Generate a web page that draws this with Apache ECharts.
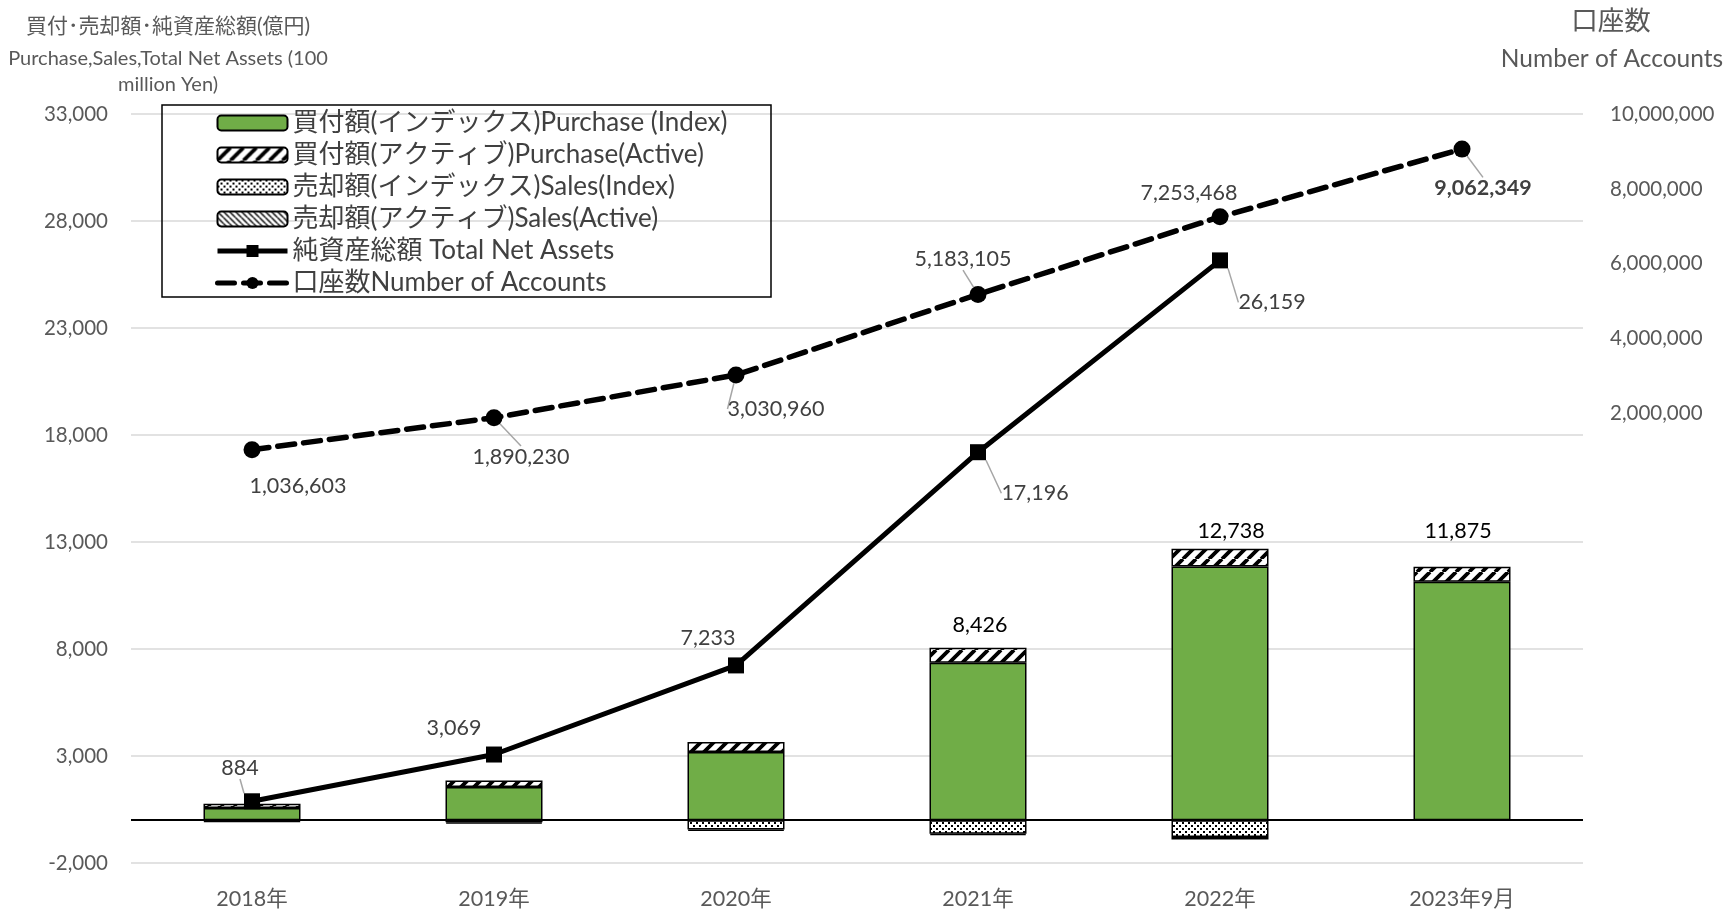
<!DOCTYPE html>
<html><head><meta charset="utf-8">
<script src="https://cdn.jsdelivr.net/npm/echarts@6/dist/echarts.min.js"></script>
<style>html,body{margin:0;padding:0;background:#fff}#c{width:1727px;height:910px}</style>
</head><body><div id="c"></div>
<script>
// ---- data ----
const categories = ['2018年', '2019年', '2020年', '2021年', '2022年', '2023年9月'];
const purchaseIndex = [570, 1550, 3190, 7360, 11850, 11140];
const purchaseActive = [200, 300, 460, 700, 840, 700];
const salesIndex = [-50, -100, -440, -630, -780, null];
const salesActive = [-30, -60, -60, -70, -120, null];
const purchaseTotals = [null, null, null, 8426, 12738, 11875];
const netAssets = [884, 3069, 7233, 17196, 26159, null];
const accounts = [1036603, 1890230, 3030960, 5183105, 7253468, 9062349];
const leftMin = -2000, leftMax = 33000, leftStep = 5000;
const rightMin = -10000000, rightMax = 10000000, rightStep = 2000000;
const seriesNames = [
  '買付額(インデックス)Purchase (Index)',
  '買付額(アクティブ)Purchase(Active)',
  '売却額(インデックス)Sales(Index)',
  '売却額(アクティブ)Sales(Active)',
  '純資産総額 Total Net Assets',
  '口座数Number of Accounts'
];

// ---- styles ----
const FONT = 'Lato, "Noto Sans CJK JP", sans-serif';
const fmt = v => (v == null ? '' : Number(v).toLocaleString('en-US'));

function tile(w, h, draw) {
  const c = document.createElement('canvas'); c.width = w; c.height = h;
  const g = c.getContext('2d'); g.fillStyle = '#fff'; g.fillRect(0, 0, w, h);
  draw(g, w, h); return c;
}
const stripeUp = tile(13, 13, (g, w, h) => {
  g.strokeStyle = '#000'; g.lineWidth = 3.8; g.beginPath();
  for (let k = -w; k <= 2 * w; k += w) { g.moveTo(k, h); g.lineTo(k + w, 0); }
  g.stroke();
});
const dots = tile(6, 6, g => { g.fillStyle = '#000'; g.fillRect(0, 0, 2, 2); g.fillRect(3, 3, 2, 2); });
const stripeDown = tile(6, 6, (g, w, h) => {
  g.strokeStyle = '#000'; g.lineWidth = 1.4; g.beginPath();
  for (let k = -w; k <= 2 * w; k += w) { g.moveTo(k, 0); g.lineTo(k + w, h); }
  g.stroke();
});

const netOffsets = [[-12, -33], [-40, -26], [-28, -27], [57, 41], [52, 42]];
const netLeader = [true, false, false, true, true];
const accOffsets = [[46, 36], [27, 39], [40, 34], [-15, -35], [-31, -24], [21, 39]];
const accLeader = [false, true, true, true, false, true];
const barLabelOffsets = [[0, 0], [0, 0], [0, 0], [2, -12], [11, -7], [-4, -25]];

const chart = echarts.init(document.getElementById('c'), null, { renderer: 'canvas' });
const barCommon = { type: 'bar', stack: 'flow', barWidth: 97, yAxisIndex: 0 };
const labelFont = { color: '#404040', fontSize: 21.5, fontFamily: FONT };

chart.setOption({
  animation: false,
  backgroundColor: '#fff',
  textStyle: { fontFamily: FONT },
  grid: { left: 131, top: 114, width: 1452, height: 749, containLabel: false, outerBoundsMode: 'none' },
  legend: {
    orient: 'vertical', left: 210, top: 105, selectedMode: false,
    itemWidth: 70, itemHeight: 15, itemGap: 6,
    textStyle: { fontFamily: FONT, fontSize: 26, color: '#404040', lineHeight: 24 },
    data: [
      { name: seriesNames[0] },
      { name: seriesNames[1] },
      { name: seriesNames[2] },
      { name: seriesNames[3] },
      { name: seriesNames[4], lineStyle: { width: 5 } },
      { name: seriesNames[5], lineStyle: { width: 5 } }
    ]
  },
  graphic: [
    { type: 'rect', shape: { x: 162, y: 105, width: 609, height: 192 }, style: { fill: 'none', stroke: '#000', lineWidth: 1.5 }, z: 10 },
    { type: 'text', x: 168, y: 26, style: { text: '買付･売却額･純資産総額(億円)', font: '21px ' + FONT, fill: '#595959', align: 'center', verticalAlign: 'middle' } },
    { type: 'text', x: 168, y: 59, style: { text: 'Purchase,Sales,Total Net Assets (100', font: '20px ' + FONT, fill: '#595959', align: 'center', verticalAlign: 'middle' } },
    { type: 'text', x: 168, y: 85, style: { text: 'million Yen)', font: '20px ' + FONT, fill: '#595959', align: 'center', verticalAlign: 'middle' } },
    { type: 'text', x: 1611, y: 21, style: { text: '口座数', font: '26.5px ' + FONT, fill: '#595959', align: 'center', verticalAlign: 'middle' } },
    { type: 'text', x: 1612, y: 59, style: { text: 'Number of Accounts', font: '24.5px ' + FONT, fill: '#595959', align: 'center', verticalAlign: 'middle' } }
  ],
  xAxis: {
    type: 'category', data: categories,
    axisLine: { show: false }, axisTick: { show: false },
    axisLabel: { color: '#595959', fontSize: 21.5, fontFamily: FONT, margin: 25 }
  },
  yAxis: [
    {
      type: 'value', min: leftMin, max: leftMax, interval: leftStep,
      axisLine: { show: false }, axisTick: { show: false },
      axisLabel: { color: '#595959', fontSize: 20.5, fontFamily: FONT, margin: 23, formatter: v => fmt(v) },
      splitLine: { show: true, lineStyle: { color: '#D9D9D9', width: 1.5 } }
    },
    {
      type: 'value', min: rightMin, max: rightMax, interval: rightStep,
      axisLine: { show: false }, axisTick: { show: false },
      axisLabel: { color: '#595959', fontSize: 20.5, fontFamily: FONT, margin: 27, formatter: v => (v > 0 ? fmt(v) : '') },
      splitLine: { show: false }
    }
  ],
  series: [
    Object.assign({}, barCommon, {
      name: seriesNames[0], data: purchaseIndex,
      itemStyle: { color: '#70AD47', borderColor: '#000', borderWidth: 1.5 },
      markLine: {
        silent: true, symbol: 'none', label: { show: false },
        lineStyle: { color: '#000', width: 2, type: 'solid' },
        data: [{ yAxis: 0 }], z: 5
      }
    }),
    Object.assign({}, barCommon, {
      name: seriesNames[1], data: purchaseActive,
      itemStyle: { color: { image: stripeUp, repeat: 'repeat' }, borderColor: '#000', borderWidth: 1.5 },
      label: {
        show: true, position: 'top', distance: 0, color: '#000', fontSize: 21.5, fontFamily: FONT,
        formatter: p => fmt(purchaseTotals[p.dataIndex])
      },
      labelLayout: p => ({ dx: barLabelOffsets[p.dataIndex][0], dy: barLabelOffsets[p.dataIndex][1] })
    }),
    Object.assign({}, barCommon, {
      name: seriesNames[2], data: salesIndex,
      itemStyle: { color: { image: dots, repeat: 'repeat' }, borderColor: '#000', borderWidth: 1.5 }
    }),
    Object.assign({}, barCommon, {
      name: seriesNames[3], data: salesActive,
      itemStyle: { color: { image: stripeDown, repeat: 'repeat' }, borderColor: '#000', borderWidth: 1.5 }
    }),
    {
      name: seriesNames[4], type: 'line', yAxisIndex: 0,
      data: netAssets.map((v, i) => ({ value: v, labelLine: { show: !!netLeader[i] } })),
      symbol: 'rect', symbolSize: 16, z: 6,
      lineStyle: { color: '#000', width: 5 }, itemStyle: { color: '#000' },
      label: Object.assign({ show: true, position: 'inside', formatter: p => fmt(p.value) }, labelFont),
      labelLine: { show: true, lineStyle: { color: '#A6A6A6', width: 1.5 } },
      labelLayout: p => ({ dx: netOffsets[p.dataIndex][0], dy: netOffsets[p.dataIndex][1] })
    },
    {
      name: seriesNames[5], type: 'line', yAxisIndex: 1,
      data: accounts.map((v, i) => {
        const d = { value: v, labelLine: { show: !!accLeader[i] } };
        if (i === accounts.length - 1) d.label = { fontWeight: 'bold' };
        return d;
      }),
      symbol: 'circle', symbolSize: 17, z: 6,
      lineStyle: { color: '#000', width: 5.5, type: [17, 9], cap: 'round' }, itemStyle: { color: '#000' },
      label: Object.assign({ show: true, position: 'inside', formatter: p => fmt(p.value) }, labelFont),
      labelLine: { show: true, lineStyle: { color: '#A6A6A6', width: 1.5 } },
      labelLayout: p => ({ dx: accOffsets[p.dataIndex][0], dy: accOffsets[p.dataIndex][1] })
    }
  ]
});
</script>
</body></html>
